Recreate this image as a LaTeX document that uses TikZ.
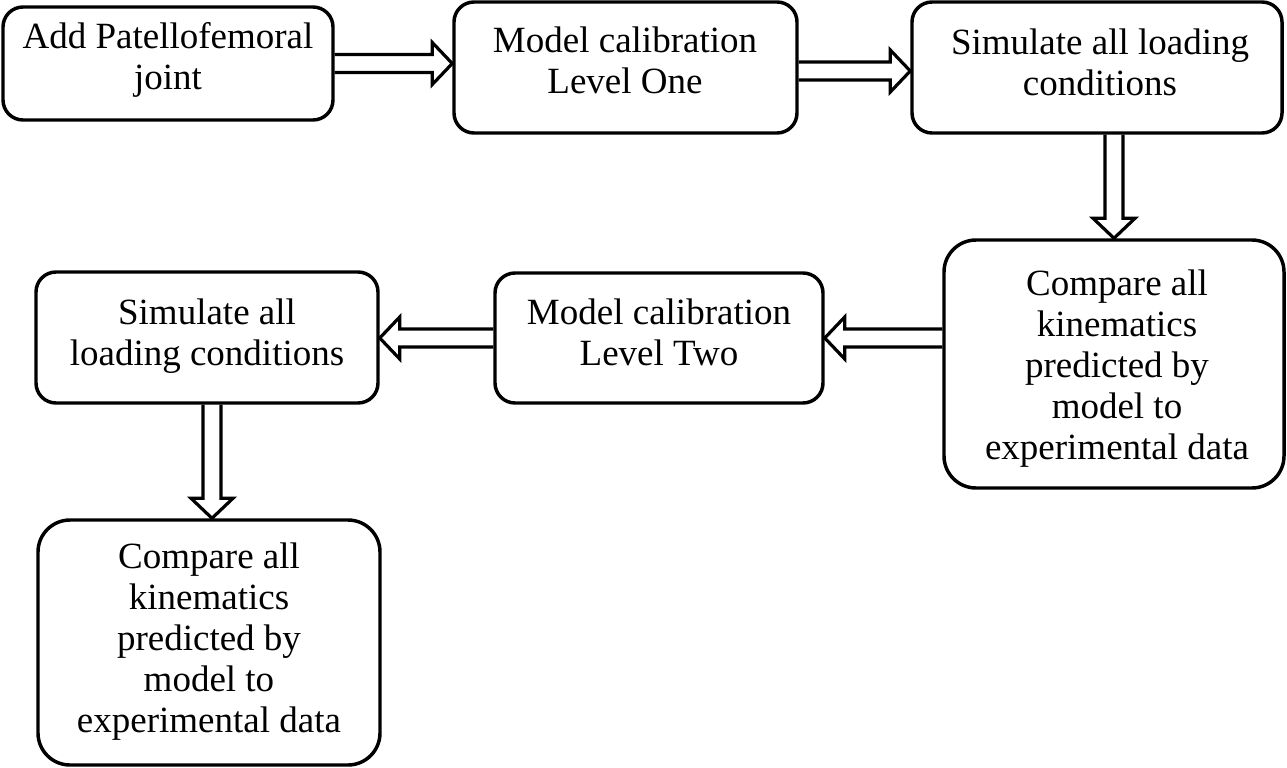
\documentclass[tikz,border=0pt]{standalone}
\usepackage{fontspec}
\setmainfont{Liberation Serif}
\usetikzlibrary{calc}
\def\sw{6.75pt}
\def\hw{15.75pt}
\def\hl{15pt}
\newcommand\blkright[2]{\draw[blk] let \p1=(#1), \p2=(#2) in (\x1,\y1+\sw) -- (\x2-\hl,\y1+\sw) -- (\x2-\hl,\y1+\hw) -- (\x2,\y1) -- (\x2-\hl,\y1-\hw) -- (\x2-\hl,\y1-\sw) -- (\x1,\y1-\sw);}
\newcommand\blkleft[2]{\draw[blk] let \p1=(#1), \p2=(#2) in (\x1,\y1+\sw) -- (\x2+\hl,\y1+\sw) -- (\x2+\hl,\y1+\hw) -- (\x2,\y1) -- (\x2+\hl,\y1-\hw) -- (\x2+\hl,\y1-\sw) -- (\x1,\y1-\sw);}
\newcommand\blkdown[2]{\draw[blk] let \p1=(#1), \p2=(#2) in (\x1-\sw,\y1) -- (\x1-\sw,\y2+\hl) -- (\x1-\hw,\y2+\hl) -- (\x1,\y2) -- (\x1+\hw,\y2+\hl) -- (\x1+\sw,\y2+\hl) -- (\x1+\sw,\y1);}
\tikzset{
  box/.style={draw, line width=2.6pt, rounded corners=15pt, inner sep=0pt},
  tallbox/.style={box, rounded corners=24pt},
  txt/.style={inner sep=0pt, align=center, font=\fontsize{27.75pt}{30.75pt}\selectfont},
  blk/.style={line width=2.4pt, miter limit=10}
}
\begin{document}
\begin{tikzpicture}[x=0.75pt,y=-0.75pt]
\useasboundingbox (0,0) rectangle (1287,767);
% boxes
\node[box, minimum width={330*0.75pt}, minimum height={113*0.75pt}] (b1) at (168,63.5) {};
\node[box, minimum width={343*0.75pt}, minimum height={131*0.75pt}] (b2) at (625.5,67.5) {};
\node[box, minimum width={370*0.75pt}, minimum height={131*0.75pt}] (b3) at (1097,67.5) {};
\node[tallbox, minimum width={340*0.75pt}, minimum height={248*0.75pt}] (b4) at (1114,364) {};
\node[box, minimum width={328*0.75pt}, minimum height={130*0.75pt}] (b5) at (659,338) {};
\node[box, minimum width={342*0.75pt}, minimum height={131*0.75pt}] (b6) at (207,337.5) {};
\node[tallbox, minimum width={342*0.75pt}, minimum height={245*0.75pt}] (b7) at (209,642.5) {};
% texts
\node[txt] (t1) at (168,60.8) {\strut Add Patellofemoral\\\strut joint};
\node[txt] (t2) at (625,65.3) {\strut Model calibration\\\strut Level One};
\node[txt] (t3) at (1100,66.8) {\strut Simulate all loading\\\strut conditions};
\node[txt] (t4) at (1117,369) {\strut Compare all\\\strut kinematics\\\strut predicted by\\\strut model to\\\strut experimental data};
\node[txt] (t5) at (659,336.8) {\strut Model calibration\\\strut Level Two};
\node[txt] (t6) at (207,336.8) {\strut Simulate all\\\strut loading conditions};
\node[txt] (t7) at (209,642.3) {\strut Compare all\\\strut kinematics\\\strut predicted by\\\strut model to\\\strut experimental data};
% connector end points
\coordinate (a1s) at (b1.east);
\coordinate (a1e) at (b2.west |- b1.east);
\coordinate (a2s) at ($(b2.east)+(0,3.5)$);
\coordinate (a2e) at (b3.west |- a2s);
\coordinate (a3s) at (b4.north |- b3.south);
\coordinate (a3e) at (b4.north);
\coordinate (a4s) at (b4.west |- b5.east);
\coordinate (a4e) at (b5.east);
\coordinate (a5s) at (b5.west);
\coordinate (a5e) at (b6.east |- b5.west);
\coordinate (a6s) at ($(b6.south)+(5,0)$);
\coordinate (a6e) at (a6s |- b7.north);
% block arrows
\blkright{a1s}{a1e}
\blkright{a2s}{a2e}
\blkdown{a3s}{a3e}
\blkleft{a4s}{a4e}
\blkleft{a5s}{a5e}
\blkdown{a6s}{a6e}
\end{tikzpicture}
\end{document}
